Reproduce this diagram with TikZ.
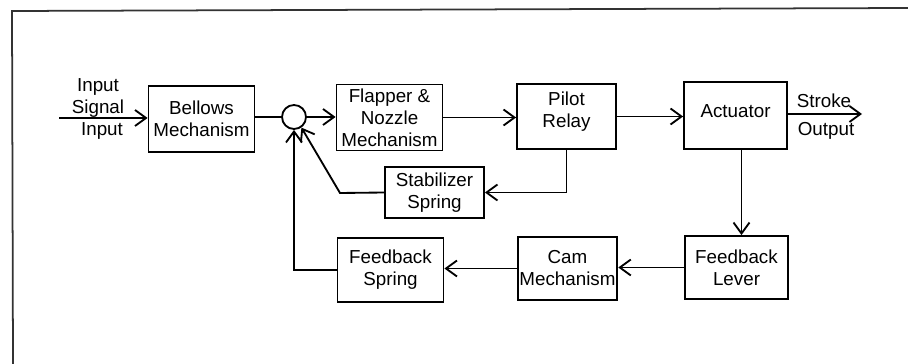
\documentclass[tikz,border=0pt]{standalone}
\usepackage{fontspec}
\setmainfont{Liberation Sans}
\usepackage{tikz}
\usetikzlibrary{arrows.meta, positioning, calc}
\tikzset{
  block/.style={rectangle, draw, line width=1.05pt, minimum width=2.12cm, minimum height=1.32cm, align=center, inner sep=1pt},
  sumpt/.style={circle, draw, line width=1.05pt, minimum size=0.48cm, inner sep=0pt},
  lbl/.style={align=center, inner sep=0pt},
  arr/.style={-{Straight Barb[length=2.2mm, width=3.2mm]}, line width=1.05pt},
  ln/.style={line width=1.05pt},
}

\begin{document}
\begin{tikzpicture}[x=0.02cm, y=-0.02cm, font=\fontsize{10.7}{12.5}\selectfont]
  \useasboundingbox (0,0) rectangle (908,364);
  % frame
  \draw[line width=1pt, black!80] (13,364) -- (12,11) -- (908,8);

  % forward path
  \node[block] (bellows) at (201.5,119) {Bellows\\Mechanism};
  \node[sumpt] (sum) at (294,117) {};
  \node[block] (flapper) at (389.5,117.5) {Flapper \&\\Nozzle\\Mechanism};
  \node[block, minimum width=1.98cm, minimum height=1.3cm, text depth=7.5pt] (pilot) at (566.5,116.5) {Pilot\\Relay};
  \node[block, minimum width=2.06cm, minimum height=1.34cm, text depth=5.5pt] (actuator) at (735.5,115.5) {Actuator};

  % feedback path
  \node[block, minimum width=2.06cm, minimum height=1.26cm] (lever) at (736.5,267.5) {Feedback\\Lever};
  \node[block, minimum width=1.98cm, minimum height=1.26cm] (cam) at (567.5,268.5) {Cam\\Mechanism};
  \node[block, minimum height=1.28cm] (fbspring) at (390.5,270) {Feedback\\Spring};
  \node[block, minimum width=1.98cm, minimum height=1.02cm] (stab) at (434.5,192.5) {Stabilizer\\Spring};

  % signal labels
  \coordinate (in) at (59,118);
  \coordinate (out) at (862,114);
  \coordinate (bend) at (340,193);
  \node[lbl] (insig) at (98,98) {Input\\Signal};
  \node[lbl] (inlbl) at (102,131) {Input};
  \node[lbl] (stroke) at (824,101) {Stroke};
  \node[lbl] (output) at (826,131) {Output};

  % connectors
  \draw[arr] (in) -- (in -| bellows.west);
  \draw[ln] (bellows.east |- sum) -- (sum.west);
  \draw[arr] (sum.east) -- (sum -| flapper.west);
  \draw[arr] (flapper.east) -- (flapper.east -| pilot.west);
  \draw[arr] (pilot.east) -- (pilot.east -| actuator.west);
  \draw[arr] (actuator.east |- out) -- (out);
  \draw[arr] ($(actuator.south)+(6,0)$) -- ($(actuator.south |- lever.north)+(6,0)$);
  \draw[arr] (lever.west) -- (lever.west -| cam.east);
  \draw[arr] (cam.west) -- (cam.west -| fbspring.east);
  \draw[arr] (fbspring.west) -| (sum.south);
  \draw[arr] (pilot.south) |- (stab.east);
  \draw[arr] (stab.west) -- (bend) -- (sum.-55);
\end{tikzpicture}
\end{document}
